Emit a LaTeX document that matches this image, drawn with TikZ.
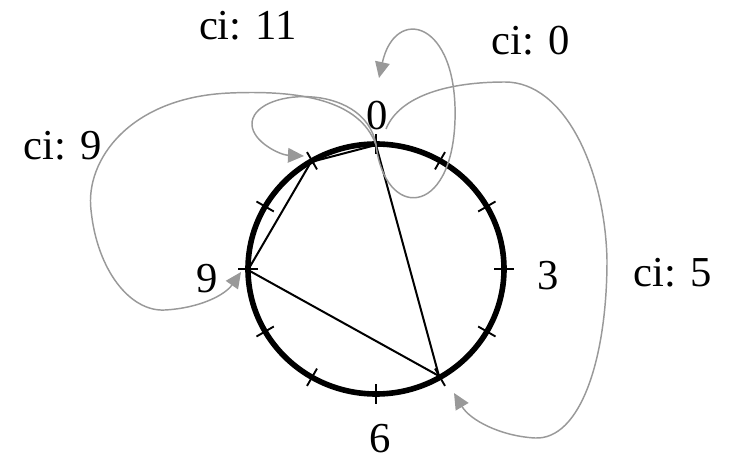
\documentclass[tikz,border=0pt]{standalone}
\usepackage{fontspec}
\setmainfont{Liberation Serif}
\usetikzlibrary{arrows.meta}
\definecolor{loopgray}{HTML}{999999}
\tikzset{
  lbl/.style={inner sep=0pt, anchor=base, font=\fontsize{32}{36}\selectfont},
  ring/.style={line width=4.2pt, black},
  tick/.style={line width=1.4pt, black},
  chord/.style={line width=1.5pt, black},
  loopline/.style={line width=1.1pt, loopgray, -{Triangle[length=12pt,width=11pt]}}
}
\begin{document}
\begin{tikzpicture}[x=0.75pt,y=-0.75pt]
\useasboundingbox (0,0) rectangle (731,459);
% ring
\draw[ring] (376,269) ellipse [x radius=96pt, y radius=93.75pt];
\foreach \k in {0,...,11}{
  \pgfmathsetmacro{\a}{90-30*\k}
  \draw[tick] ({376+118*cos(\a)},{269-115*sin(\a)}) -- ({376+138*cos(\a)},{269-135*sin(\a)});
}
% points
\coordinate (p0) at (376,145);
\coordinate (p11) at (311,162);
\coordinate (p9) at (248,270);
\coordinate (p5) at (439,376);
\coordinate (s5) at (386,129);
\coordinate (e0) at (379,78);
\coordinate (e11) at (304,156);
\coordinate (e9) at (241,272);
\coordinate (e5) at (454,393);
% chords
\draw[chord] (p0) -- (p11) -- (p9) -- (p5) -- cycle;
% loops
\draw[loopline] (p0) .. controls (385,220) and (452,218) .. (455,120)
  .. controls (458,20) and (395,5) .. (e0);
\draw[loopline] (p0) .. controls (365,80) and (250,88) .. (252,125)
  .. controls (253,142) and (280,155) .. (e11);
\draw[loopline] (p0) .. controls (360,100) and (300,90) .. (230,93)
  .. controls (130,97) and (85,160) .. (91,210)
  .. controls (97,270) and (130,312) .. (165,310)
  .. controls (200,308) and (225,295) .. (e9);
\draw[loopline] (s5) .. controls (400,95) and (450,82) .. (505,82)
  .. controls (565,82) and (605,170) .. (607,260)
  .. controls (607,360) and (580,440) .. (535,438)
  .. controls (500,436) and (470,420) .. (e5);
% labels
\node[lbl] (l0) at (377,130) {0};
\node[lbl] (l3) at (548,290) {3};
\node[lbl] (l6) at (380,452) {6};
\node[lbl] (l9) at (207,293) {9};
\node[lbl] (c11) at (248,40) {ci: 11};
\node[lbl] (c0) at (531,55) {ci: 0};
\node[lbl] (c9) at (63,160) {ci: 9};
\node[lbl] (c5) at (673,287) {ci: 5};
\end{tikzpicture}
\end{document}
